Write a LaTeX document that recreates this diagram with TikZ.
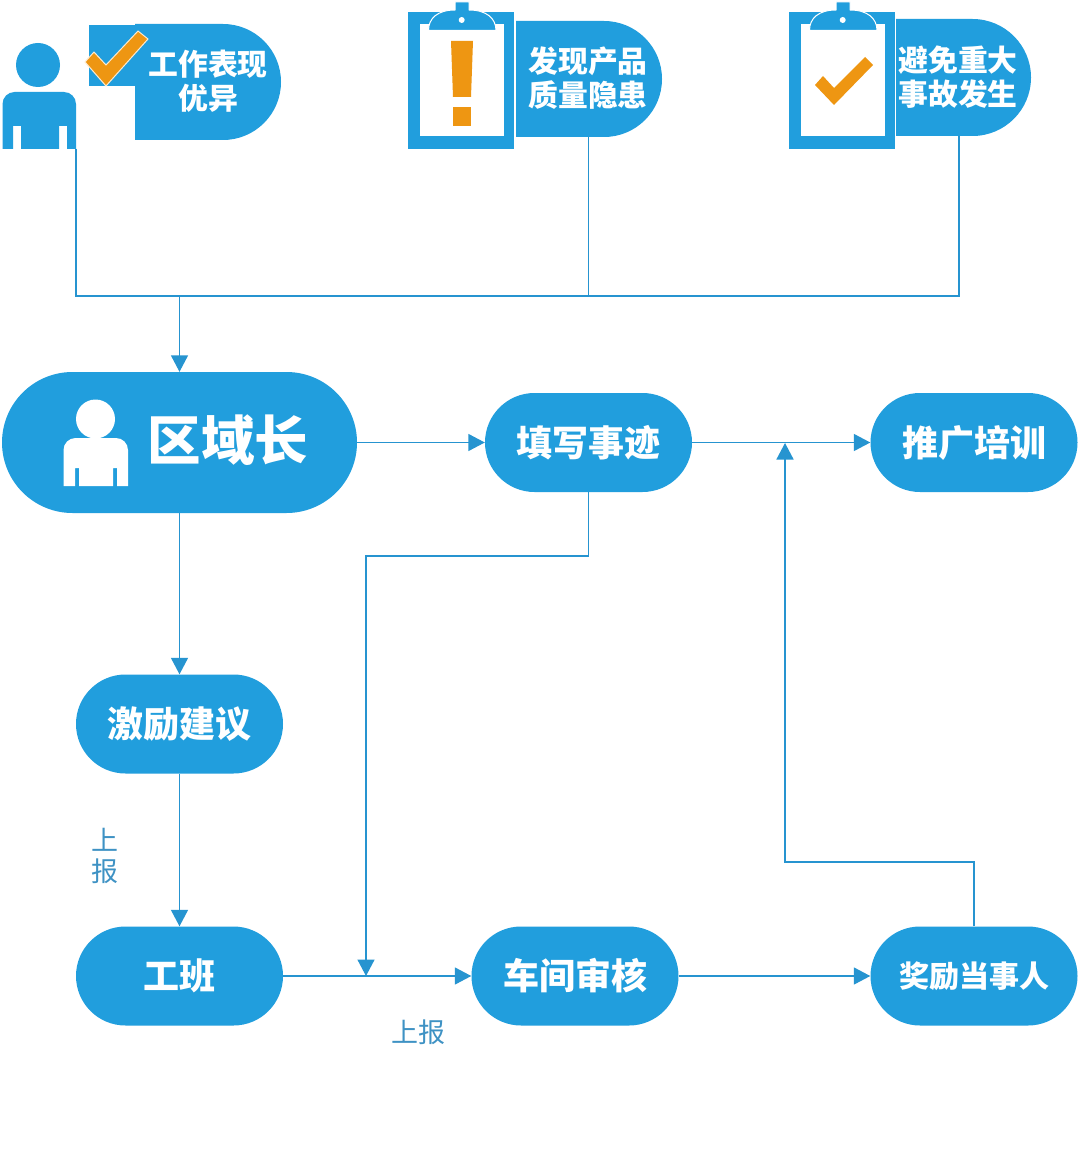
\documentclass[tikz,border=0pt]{standalone}
\usepackage{fontspec}
\newfontfamily\cjk{Noto Sans CJK SC}
\usetikzlibrary{arrows.meta,shapes.misc}
\definecolor{flowblue}{RGB}{33,158,221}
\definecolor{lineblue}{RGB}{38,148,208}
\definecolor{captionblue}{RGB}{62,146,196}
\definecolor{markorange}{RGB}{238,150,18}
\tikzset{
  pill/.style={rounded rectangle,fill=flowblue,text=white,inner sep=0pt,
    font=\cjk\bfseries\fontsize{36}{38}\selectfont,align=center,
    minimum width=207pt,minimum height=99pt},
  taglabel/.style={text=white,inner sep=0pt,
    font=\cjk\bfseries\fontsize{29.8}{34}\selectfont,align=center},
  flow/.style={draw=lineblue,line width=1.5pt},
  flowarrow/.style={flow,-{Triangle[length=16.5pt,width=17pt]}},
  caption/.style={text=captionblue,inner sep=0pt,font=\cjk\fontsize{27}{28}\selectfont},
  clipwhite/.style={fill=white},
  orangemark/.style={fill=markorange}
}
% Sets pill text slightly above the optical centre of the pill
\newcommand{\lifted}[1]{\raisebox{1.6pt}{#1}}
% Clipboard icon whose top-left outer corner sits at the scope origin
\newcommand{\clipboardicon}{%
  \fill[flowblue] (0,0) rectangle (106,137);
  \fill[clipwhite] (12,12) rectangle (96,124);
  \fill[flowblue,draw=white,line width=1pt] (20.5,18.5) .. controls (20.5,6) and (30,-2) .. (47,-2)
     -- (47,-10) -- (61,-10) -- (61,-2) .. controls (78,-2) and (88,6) .. (88,18.5) -- cycle;
  \fill[white] (53.7,8) circle (3);
}
% Tag with a square left side and a round right side: left edge, top, right edge, bottom
\newcommand{\tagshape}[4]{%
  \pgfmathsetmacro{\tagr}{(#4-#2)/2}
  \pgfmathsetmacro{\tagx}{#3-\tagr}
  \fill[flowblue] (#1,#2) -- (\tagx,#2) arc[start angle=270,end angle=450,radius=\tagr] -- (#1,#4) -- cycle;
}
\begin{document}
\begin{tikzpicture}[x=1pt,y=-1pt]
\useasboundingbox (0,0) rectangle (1080,1161);
\fill[white] (0,0) rectangle (1080,1161);

% Worker figure with the check tag
\fill[flowblue] (38,65) circle (22);
\fill[flowblue] (2.5,149) -- (2.5,104) arc[start angle=180,end angle=270,radius=12] -- (64,92)
   arc[start angle=270,end angle=360,radius=12] -- (76,149) -- (67,149) -- (67,126) -- (59,126) -- (59,149)
   -- (21,149) -- (21,126) -- (13,126) -- (13,149) -- cycle;
\fill[flowblue] (89,25) rectangle (137,86);
\tagshape{135}{24}{281}{140}
\node[taglabel] (good) at (208,81) {工作表现\\优异};
\fill[orangemark,draw=white!80!markorange,line width=1pt] (85,62) -- (106,86) -- (148,39) -- (138,31) -- (106,65) -- (94,52) -- cycle;

% Clipboard with exclamation mark
\begin{scope}[shift={(408,12)}]
  \clipboardicon
\end{scope}
\fill[orangemark] (451,41) -- (473,41) -- (471,97) -- (453,97) -- cycle;
\fill[orangemark] (453,107) rectangle (471,126);
\tagshape{516}{21}{662}{137}
\node[taglabel] (defect) at (588,78.5) {发现产品\\质量隐患};

% Clipboard with check mark
\begin{scope}[shift={(789,12)}]
  \clipboardicon
\end{scope}
\fill[orangemark] (815,85) -- (834,105) -- (873,65) -- (865,57) -- (834,88) -- (823,76) -- cycle;
\tagshape{896}{19}{1031}{136}
\node[taglabel] (accident) at (958,77) {避免重大\\事故发生};

% Main flow nodes
\node[pill,minimum width=355pt,minimum height=141pt] (head) at (179.5,442.5) {};
\fill[white] (95.5,419) circle (19.5);
\fill[white] (63.5,486) -- (63.5,450) arc[start angle=180,end angle=270,radius=12] -- (116,438)
   arc[start angle=270,end angle=360,radius=12] -- (128,486) -- (117,486) -- (117,468) -- (113,468) -- (113,486)
   -- (79,486) -- (79,468) -- (75,468) -- (75,486) -- cycle;
\node[text=white,inner sep=0pt,font=\cjk\bfseries\fontsize{53.5}{55}\selectfont] (headlabel) at (228,440) {区域长};
\node[pill] (record) at (588.5,442.5) {\lifted{填写事迹}};
\node[pill] (train) at (974,442.5) {\lifted{推广培训}};
\node[pill] (advice) at (179.5,724) {\lifted{激励建议}};
\node[pill] (team) at (179.5,976) {\lifted{工班}};
\node[pill] (review) at (575,976) {\lifted{车间审核}};
\node[pill,font=\cjk\bfseries\fontsize{30}{32}\selectfont] (reward) at (974,976) {\lifted{奖励当事人}};

% Labels on the reporting lines
\node[caption] (upa) at (105,840) {上};
\node[caption] (upb) at (105,871) {报};
\node[caption] (upc) at (418,1032) {上报};

% Junction points
\coordinate (pa) at (76,149);
\coordinate (pb) at (588.5,137);
\coordinate (pc) at (959,136);
\coordinate (busleft) at (76,296);
\coordinate (busmid) at (588.5,296);
\coordinate (busright) at (959,296);
\coordinate (busdrop) at (179.5,296);
\coordinate (turna) at (588.5,556);
\coordinate (turnb) at (366,556);
\coordinate (joina) at (366,976);
\coordinate (turnc) at (974,862);
\coordinate (turnd) at (785,862);
\coordinate (joinb) at (785,443);

% Connectors
\draw[flow] (pa) -- (busleft) -- (busright) -- (pc);
\draw[flow] (pb) -- (busmid);
\draw[flowarrow] (busdrop) -- (head.north);
\draw[flowarrow] (head.east) -- (record.west);
\draw[flowarrow] (record.east) -- (train.west);
\draw[flowarrow] (head.south) -- (advice.north);
\draw[flowarrow] (advice.south) -- (team.north);
\draw[flowarrow] (team.east) -- (review.west);
\draw[flowarrow] (review.east) -- (reward.west);
\draw[flowarrow] (record.south) -- (turna) -- (turnb) -- (joina);
\draw[flowarrow] (reward.north) -- (turnc) -- (turnd) -- (joinb);
\end{tikzpicture}
\end{document}
